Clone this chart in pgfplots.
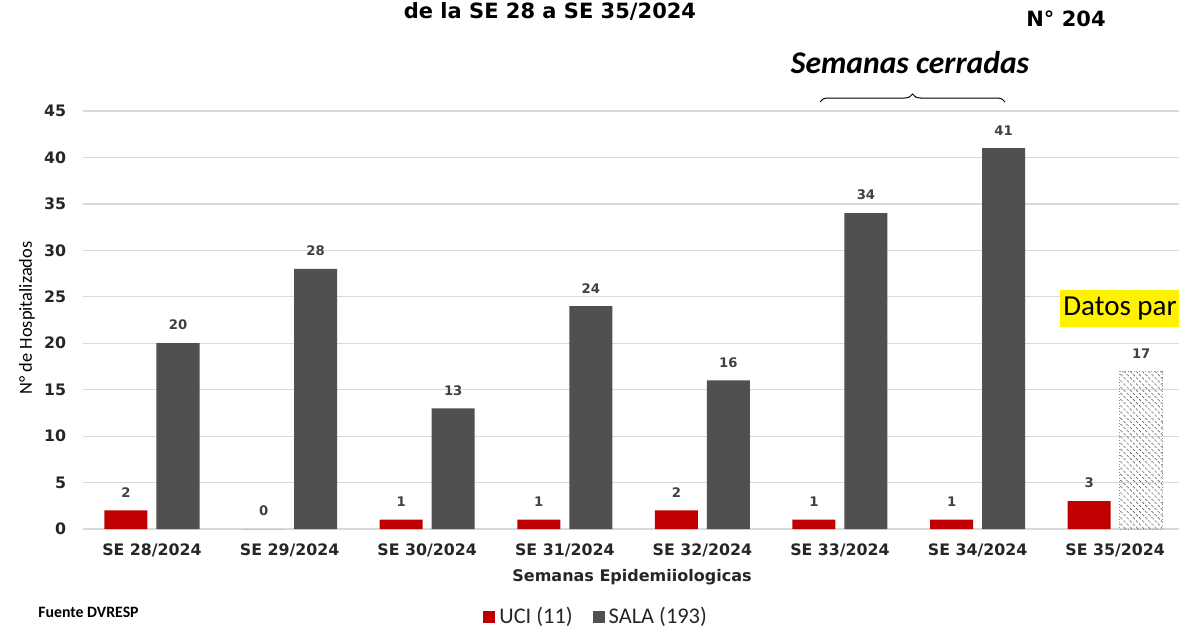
\documentclass[border=0pt]{standalone}
\usepackage{pgfplots}
\pgfplotsset{compat=1.18}
\usepackage{fontspec}
\setmainfont{Open Sans}
\newfontfamily\dv{DejaVu Sans}
\newfontfamily\carl{Carlito}
\usetikzlibrary{patterns.meta,decorations.pathreplacing}
\definecolor{ucired}{HTML}{C00000}
\definecolor{salagray}{HTML}{505050}
\definecolor{lblgray}{HTML}{404040}
\definecolor{gridgray}{HTML}{D9D9D9}
\begin{document}
\begin{tikzpicture}[x=0.5pt,y=0.5pt]
\begin{axis}[
  at={(41.6pt,50pt)}, anchor=south west,
  scale only axis, width=550.4pt, height=209pt,
  /pgf/number format/assume math mode=true,
  ybar,
  xmin=-0.5, xmax=7.5, ymin=0, ymax=45,
  xtick={0,1,2,3,4,5,6,7},
  xticklabels={SE 28/2024,SE 29/2024,SE 30/2024,SE 31/2024,SE 32/2024,SE 33/2024,SE 34/2024,SE 35/2024},
  ytick={0,5,10,15,20,25,30,35,40,45},
  axis lines*=left, axis line style={-},
  y axis line style={draw=none},
  x axis line style={draw=gridgray, line width=0.8pt},
  major tick length=0pt,
  ymajorgrids, major grid style={gridgray, line width=0.6pt},
  ticklabel style={font=\dv\bfseries\fontsize{7.9}{9}\selectfont, text=black!85},
  yticklabel style={xshift=-5pt},
  xticklabel style={yshift=-4pt},
  bar width=21.5pt,
  nodes near coords,
  every node near coord/.append style={font=\dv\bfseries\fontsize{6.6}{7}\selectfont, text=lblgray, yshift=3pt},
  legend columns=2,
  legend style={at={(0.3632,-0.2105)}, anchor=west, draw=none, fill=none, inner sep=0pt,
    font=\carl\fontsize{11.2}{13}\selectfont, text=black!85,
    /tikz/every even column/.append style={column sep=8pt}},
  legend image code/.code={\fill[#1] (0pt,-3pt) rectangle (6pt,3pt);},
]
\addplot[bar shift=-13pt, fill=ucired, draw=none] coordinates {(0,2) (1,0) (2,1) (3,1) (4,2) (5,1) (6,1) (7,3)};
\addlegendentry{UCI (11)}
\addplot[bar shift=13pt, fill=salagray, draw=none] coordinates {(0,20) (1,28) (2,13) (3,24) (4,16) (5,34) (6,41)};
\addlegendentry{SALA (193)}
\addplot[bar shift=13pt, forget plot, pattern={Lines[angle=-45,distance=2.2pt,line width=0.45pt]}, pattern color=black!65, draw=black!40, densely dotted] coordinates {(7,17)};
\end{axis}
% title and annotations
\node[font=\dv\bfseries\fontsize{10.5}{12}\selectfont] at (550,618) {de la SE 28 a SE 35/2024};
\node[font=\dv\bfseries\fontsize{10.5}{12}\selectfont] at (1066,610) {N° 204};
\node[font=\carl\bfseries\itshape\fontsize{15.8}{18}\selectfont] at (910,566) {Semanas cerradas};
\draw[decorate, decoration={brace, amplitude=4pt}, line width=0.5pt] (820,527) -- (1005,527);
\node[rotate=90, font=\carl\fontsize{9.2}{11}\selectfont] at (27,311) {N° de Hospitalizados};
\node[font=\dv\bfseries\fontsize{8}{9}\selectfont, text=black!85] at (632,52) {Semanas Epidemiiologicas};
\node[anchor=west, inner sep=0pt, font=\carl\bfseries\fontsize{7.9}{9}\selectfont] at (38,17) {Fuente DVRESP};
\fill[yellow] (1060,302) rectangle (1179,339);
\node[anchor=west, font=\carl\fontsize{14.5}{16}\selectfont, inner sep=0pt] at (1063,320.5) {Datos par};
\pgfresetboundingbox
\useasboundingbox (0,0) rectangle (1179,629);
\end{tikzpicture}
\end{document}
